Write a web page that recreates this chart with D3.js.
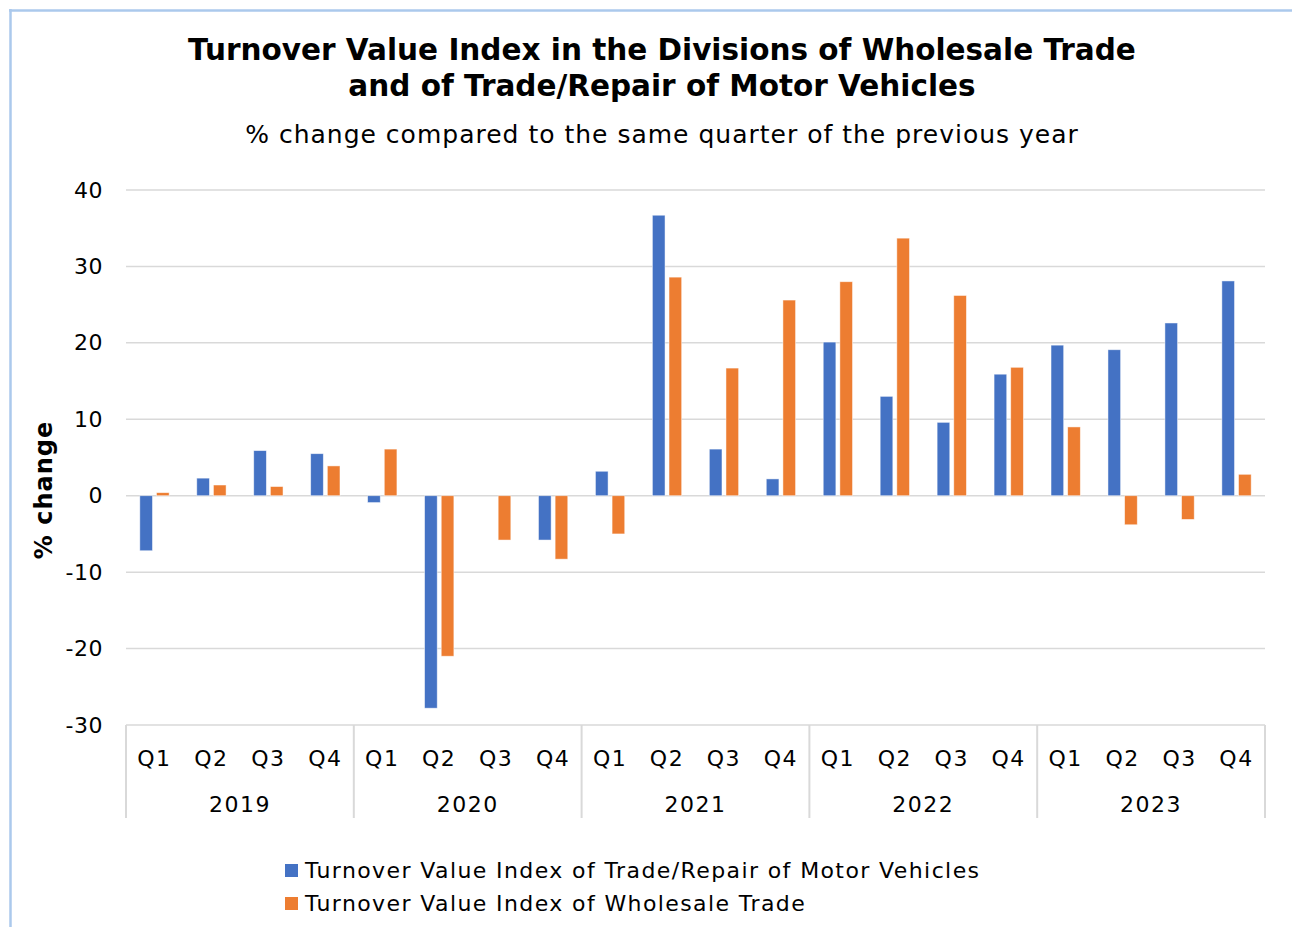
<!DOCTYPE html>
<html>
<head>
<meta charset="utf-8">
<script src="https://cdn.jsdelivr.net/npm/d3@7"></script>
<style>
  body { margin: 0; background: #fff; }
  text { font-family: "DejaVu Sans", Verdana, sans-serif; fill: #000; }
</style>
</head>
<body>
<div id="chart-area"></div>
<script>
// data
var years = ["2019", "2020", "2021", "2022", "2023"];
var quarters = ["Q1", "Q2", "Q3", "Q4"];
var seriesNames = [
    "Turnover Value Index of Trade/Repair of Motor Vehicles",
    "Turnover Value Index of Wholesale Trade"
];
var motorVehicles = [-7.2, 2.3, 5.9, 5.5, -0.9, -27.8, 0, -5.8, 3.2, 36.7, 6.1, 2.2,
                     20.1, 13.0, 9.6, 15.9, 19.7, 19.1, 22.6, 28.1];
var wholesale = [0.4, 1.4, 1.2, 3.9, 6.1, -21.0, -5.8, -8.3, -5.0, 28.6, 16.7, 25.6,
                 28.0, 33.7, 26.2, 16.8, 9.0, -3.8, -3.1, 2.8];
var yTicks = [40, 30, 20, 10, 0, -10, -20, -30];
var colors = ["#4472c4", "#ed7d31"];

var W = 1292, H = 927;
var margin = { left: 126, right: 27, top: 190, bottom: 202 };
var width = W - margin.left - margin.right,
    height = H - margin.top - margin.bottom;

var svg = d3.select("#chart-area")
    .append("svg")
        .attr("width", W)
        .attr("height", H);

// frame (light blue edge of the screenshot)
svg.append("line").attr("x1", 9).attr("x2", W).attr("y1", 10.5).attr("y2", 10.5)
    .attr("stroke", "#abc9ec").attr("stroke-width", 2.5);
svg.append("line").attr("x1", 10.5).attr("x2", 10.5).attr("y1", 9).attr("y2", H)
    .attr("stroke", "#abc9ec").attr("stroke-width", 2.5);

// titles
var title = svg.append("text")
    .attr("x", 662).attr("y", 60)
    .attr("text-anchor", "middle")
    .attr("font-size", "29.5px")
    .attr("font-weight", "bold");
title.append("tspan").attr("x", 662).attr("y", 60)
    .text("Turnover Value Index in the Divisions of Wholesale Trade");
title.append("tspan").attr("x", 662).attr("y", 96)
    .text("and of Trade/Repair of Motor Vehicles");

svg.append("text")
    .attr("x", 662).attr("y", 143)
    .attr("text-anchor", "middle")
    .attr("font-size", "25px")
    .attr("letter-spacing", "1px")
    .text("% change compared to the same quarter of the previous year");

var g = svg.append("g")
    .attr("transform", "translate(" + margin.left + ", " + margin.top + ")");

// categories: one per quarter of each year
var cats = [];
years.forEach(function(yr){
    quarters.forEach(function(q){ cats.push(yr + " " + q); });
});

var x = d3.scaleBand()
    .domain(cats)
    .range([0, width])
    .padding(0);

var xSub = d3.scaleBand()
    .domain([0, 1])
    .range([0, x.bandwidth()])
    .paddingInner(0.24)
    .paddingOuter(0.83);

var y = d3.scaleLinear()
    .domain([-30, 40])
    .range([height, 0]);

// gridlines
g.selectAll(".grid")
    .data(yTicks)
    .enter().append("line")
        .attr("class", "grid")
        .attr("x1", 0).attr("x2", width)
        .attr("y1", function(d){ return y(d); })
        .attr("y2", function(d){ return y(d); })
        .attr("stroke", "#d9d9d9")
        .attr("stroke-width", 1.5);

// y axis
var yAxisCall = d3.axisLeft(y)
    .tickValues(yTicks)
    .tickSize(0)
    .tickPadding(23)
    .tickFormat(function(d){ return String(d); });
var yAxisGroup = g.append("g").call(yAxisCall);
yAxisGroup.select(".domain").remove();
yAxisGroup.selectAll("text")
    .attr("font-family", "'DejaVu Sans', Verdana, sans-serif")
    .attr("font-size", "22px")
    .attr("letter-spacing", "0.5px")
    .attr("fill", "#000");

// y label
svg.append("text")
    .attr("transform", "rotate(-90)")
    .attr("x", -490)
    .attr("y", 52)
    .attr("text-anchor", "middle")
    .attr("font-size", "24px")
    .attr("font-weight", "bold")
    .attr("letter-spacing", "1px")
    .text("% change");

// bars
var rows = cats.map(function(c, i){
    return { cat: c, vals: [motorVehicles[i], wholesale[i]] };
});

var groups = g.selectAll(".bar-group")
    .data(rows)
    .enter().append("g")
        .attr("class", "bar-group")
        .attr("transform", function(d){ return "translate(" + x(d.cat) + ",0)"; });

groups.selectAll("rect")
    .data(function(d){ return d.vals; })
    .enter().append("rect")
        .attr("x", function(d, i){ return xSub(i); })
        .attr("width", xSub.bandwidth())
        .attr("y", function(d){ return y(Math.max(0, d)); })
        .attr("height", function(d){ return Math.abs(y(d) - y(0)); })
        .attr("fill", function(d, i){ return colors[i]; })
        .attr("stroke", "#fff")
        .attr("stroke-opacity", 0.6)
        .attr("stroke-width", 0.8);

// multi-level category axis
var axisBottom = height + 93;
var xAxisGroup = g.append("g");
var bounds = years.map(function(yr){ return x(yr + " Q1"); }).concat([width]);
xAxisGroup.selectAll(".sep")
    .data(bounds)
    .enter().append("line")
        .attr("x1", function(d){ return d; })
        .attr("x2", function(d){ return d; })
        .attr("y1", height)
        .attr("y2", axisBottom)
        .attr("stroke", "#d9d9d9")
        .attr("stroke-width", 2);

xAxisGroup.selectAll(".qlabel")
    .data(cats)
    .enter().append("text")
        .attr("x", function(d){ return x(d) + x.bandwidth() / 2; })
        .attr("y", height + 41)
        .attr("text-anchor", "middle")
        .attr("font-size", "22px")
        .attr("letter-spacing", "1.5px")
        .text(function(d){ return d.split(" ")[1]; });

xAxisGroup.selectAll(".ylabel")
    .data(years)
    .enter().append("text")
        .attr("x", function(d){ return x(d + " Q1") + x.bandwidth() * 2; })
        .attr("y", height + 87)
        .attr("text-anchor", "middle")
        .attr("font-size", "22px")
        .attr("letter-spacing", "1.5px")
        .text(function(d){ return d; });

// legend
var legend = svg.append("g").attr("transform", "translate(285, 864)");
seriesNames.forEach(function(name, i){
    var row = legend.append("g").attr("transform", "translate(0," + (i * 33) + ")");
    row.append("rect")
        .attr("width", 13).attr("height", 13)
        .attr("fill", colors[i]);
    row.append("text")
        .attr("x", 20).attr("y", 14)
        .attr("font-size", "22px")
        .attr("letter-spacing", "1.4px")
        .text(name);
});
</script>
</body>
</html>
